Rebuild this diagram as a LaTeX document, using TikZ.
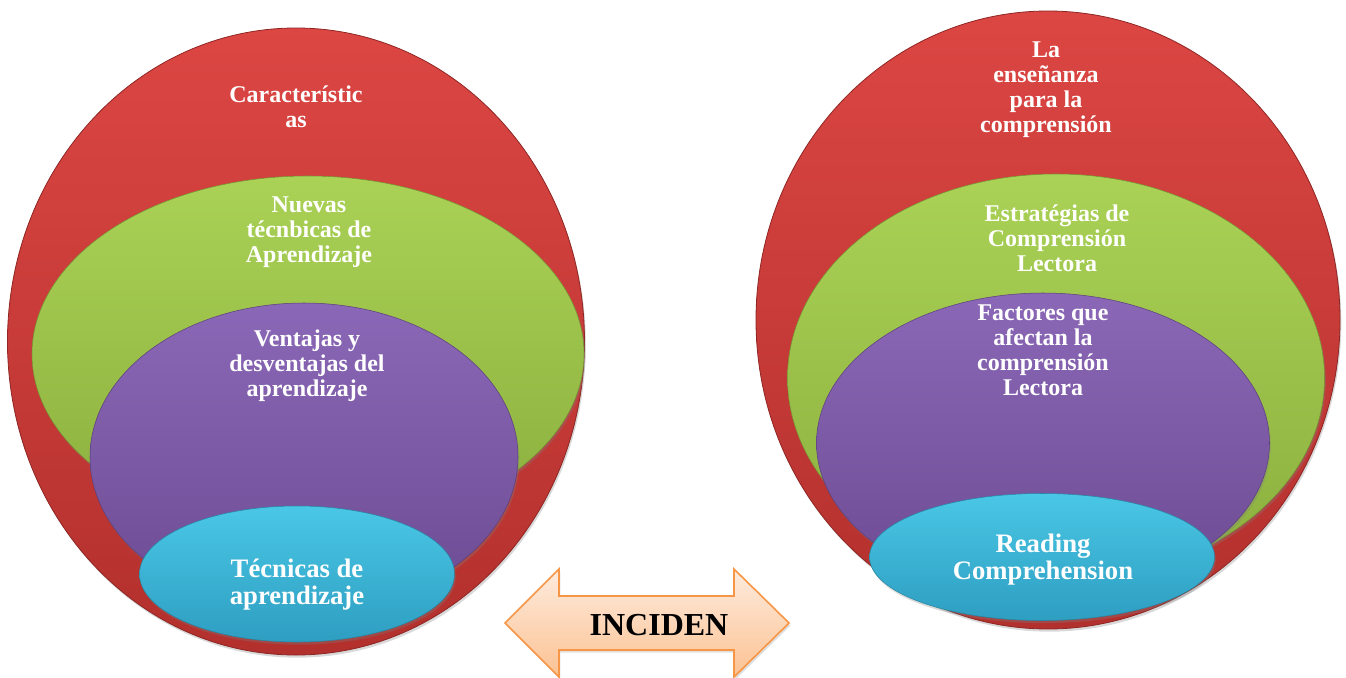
\documentclass[tikz,border=0pt]{standalone}
\usepackage{fontspec}
\setmainfont{Liberation Serif}
\usepackage{tikz}
\usetikzlibrary{shapes.geometric,shadows}
\definecolor{rojoA}{HTML}{DC4643}
\definecolor{rojoB}{HTML}{B2302D}
\definecolor{verdeA}{HTML}{AAD256}
\definecolor{verdeB}{HTML}{8BAE3D}
\definecolor{moradoA}{HTML}{8B68B7}
\definecolor{moradoB}{HTML}{6C4B92}
\definecolor{cianA}{HTML}{4AC7E6}
\definecolor{cianB}{HTML}{2E9EC1}
\definecolor{durazA}{HTML}{FEEBDD}
\definecolor{durazB}{HTML}{FBC293}
\definecolor{naranja}{HTML}{F79646}
\tikzset{
    every node/.style={inner sep=0mm, outer sep=0mm}
}
\tikzset{
    elip/.style 2 args={ellipse, minimum width=#1*0.75pt, minimum height=#2*0.75pt,
        drop shadow={opacity=.3, shadow xshift=1pt, shadow yshift=-2pt}},
    rojo/.style={top color=rojoA, bottom color=rojoB, draw=rojoB!80!black, line width=.6pt},
    verde/.style={top color=verdeA, bottom color=verdeB, draw=verdeB!85!black, line width=.4pt},
    morado/.style={top color=moradoA, bottom color=moradoB, draw=moradoB!85!black, line width=.4pt},
    cian/.style={top color=cianA, bottom color=cianB, draw=cianB!85!black, line width=.4pt},
    rotulo/.style={text=white, align=center, font=\fontsize{18}{18.7}\selectfont\bfseries},
    rotgrande/.style={text=white, align=center, font=\fontsize{20}{20.3}\selectfont\bfseries}
}

\begin{document}
\begin{tikzpicture}[x=0.75pt, y=-0.75pt]
    \useasboundingbox (0,0) rectangle (1346,678);

    % izquierda
    \node (r1) [elip={577}{627}, rojo] at (296, 341.5) {};
    \node (g1) [elip={552}{356}, verde] at (308, 354) {};
    \node (p1) [elip={428}{308}, morado] at (304, 457) {};
    \node (c1) [elip={315}{136}, cian] at (297, 574) {};

    \node (t1) [rotulo] at (296, 107) {Característic\\as};
    \node (t2) [rotulo] at (309, 232) {Nuevas\\técnbicas de\\Aprendizaje};
    \node (t3) [rotulo] at (307, 366) {Ventajas y\\desventajas del\\aprendizaje};
    \node (t4) [rotgrande] at (297, 585) {Técnicas de\\aprendizaje};

    % derecha
    \node (r2) [elip={584}{618}, rojo] at (1048, 320) {};
    \node (g2) [elip={537}{408}, verde] at (1056, 378) {};
    \node (p2) [elip={453}{300}, morado] at (1043, 443) {};
    \node (c2) [elip={345}{127}, cian] at (1042, 557) {};

    \node (t5) [rotulo] at (1046, 90) {La\\enseñanza\\para la\\comprensión};
    \node (t6) [rotulo] at (1057, 238) {Estratégias de\\Comprensión\\Lectora};
    \node (t7) [rotulo] at (1043, 350) {Factores que\\afectan la\\comprensión\\Lectora};
    \node (t8) [rotgrande] at (1043, 560) {Reading\\Comprehension};

    % flecha
    \draw [top color=durazA, bottom color=durazB, draw=naranja, line width=1.2pt, line join=miter,
        drop shadow={opacity=.25, shadow xshift=1pt, shadow yshift=-2pt}]
        (505,623) -- (559,569) -- (559,596) -- (734,596) -- (734,569) -- (789,623)
        -- (734,677) -- (734,650) -- (559,650) -- (559,677) -- cycle;
    \node (inc) [font=\fontsize{24}{26}\selectfont\bfseries] at (659, 625) {INCIDEN};
\end{tikzpicture}
\end{document}
